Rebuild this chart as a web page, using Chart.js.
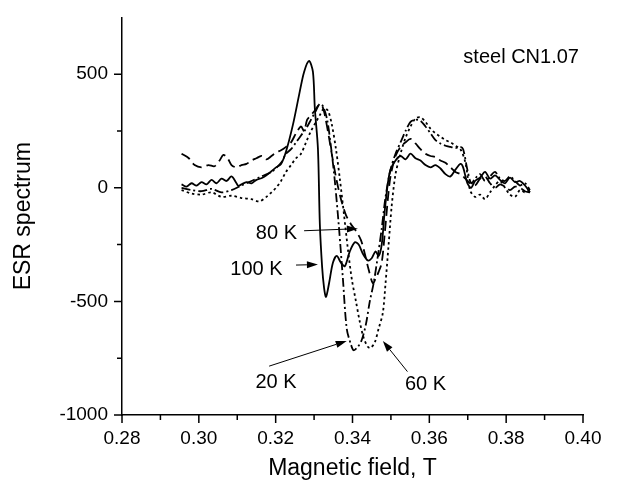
<!DOCTYPE html>
<html>
<head>
<meta charset="utf-8">
<script src="https://cdn.jsdelivr.net/npm/chart.js@4/dist/chart.umd.min.js"></script>
<style>
  html, body { margin: 0; padding: 0; background: #fff; }
</style>
</head>
<body>
<canvas id="chart" width="636" height="486"></canvas>
<script>
// ESR spectra of steel CN1.07 at four temperatures (field in T)
const field100K = [0.2955, 0.2968, 0.2981, 0.2994, 0.3007, 0.3020, 0.3033, 0.3046, 0.3059, 0.3072, 0.3085, 0.3098, 0.3103, 0.3111, 0.3124, 0.3137, 0.3150, 0.3163, 0.3176, 0.3189, 0.3201, 0.3214, 0.3227, 0.3245, 0.3261, 0.3274, 0.3287, 0.3297, 0.3302, 0.3310, 0.3315, 0.3321, 0.3326, 0.3331, 0.3339, 0.3349, 0.3359, 0.3370, 0.3380, 0.3393, 0.3406, 0.3416, 0.3427, 0.3440, 0.3450, 0.3460, 0.3468, 0.3476, 0.3484, 0.3492, 0.3499, 0.3512, 0.3525, 0.3538, 0.3551, 0.3564, 0.3577, 0.3590, 0.3603, 0.3616, 0.3629, 0.3642, 0.3655, 0.3668, 0.3681, 0.3688, 0.3699, 0.3709, 0.3719, 0.3732, 0.3745, 0.3758, 0.3771, 0.3784, 0.3797, 0.3810, 0.3823, 0.3836, 0.3849, 0.3862];
const esr100K = [15, 5, 20, 10, 25, 15, 35, 20, 40, 30, 50, 20, 8, 15, 25, 20, 35, 42, 55, 73, 90, 105, 160, 278, 409, 510, 558, 510, 348, 173, -160, -350, -440, -480, -420, -330, -300, -330, -345, -280, -240, -250, -290, -320, -310, -280, -300, -250, -100, 20, 80, 120, 140, 125, 150, 130, 120, 100, 90, 100, 85, 60, 50, 80, 105, 90, 20, 0, 30, 45, 70, 40, 55, 35, 20, 45, 25, 30, 10, -20];

const field80K = [0.2955, 0.2974, 0.2989, 0.3007, 0.3025, 0.3041, 0.3054, 0.3064, 0.3075, 0.3085, 0.3098, 0.3111, 0.3124, 0.3137, 0.3150, 0.3163, 0.3176, 0.3189, 0.3201, 0.3214, 0.3227, 0.3240, 0.3253, 0.3266, 0.3274, 0.3282, 0.3292, 0.3302, 0.3313, 0.3321, 0.3328, 0.3339, 0.3349, 0.3359, 0.3370, 0.3383, 0.3396, 0.3409, 0.3422, 0.3432, 0.3442, 0.3453, 0.3460, 0.3468, 0.3476, 0.3484, 0.3492, 0.3499, 0.3512, 0.3525, 0.3538, 0.3551, 0.3564, 0.3577, 0.3590, 0.3603, 0.3616, 0.3629, 0.3642, 0.3655, 0.3668, 0.3681, 0.3694, 0.3706, 0.3719, 0.3732, 0.3745, 0.3758, 0.3771, 0.3784, 0.3797, 0.3810, 0.3823, 0.3836, 0.3849, 0.3862];
const esr80K = [150, 130, 100, 90, 100, 95, 120, 145, 130, 100, 90, 100, 105, 120, 130, 140, 125, 140, 155, 165, 180, 200, 240, 270, 250, 300, 320, 340, 365, 360, 320, 220, 120, 30, -50, -120, -160, -190, -230, -290, -360, -420, -400, -370, -330, -200, -50, 50, 140, 180, 200, 215, 195, 170, 150, 140, 135, 120, 110, 90, 70, 60, 40, 20, 10, 40, 50, 20, 0, 15, 5, -10, 5, 0, -15, -20];

const field20K = [0.2955, 0.2981, 0.3007, 0.3033, 0.3059, 0.3085, 0.3111, 0.3137, 0.3163, 0.3189, 0.3214, 0.3227, 0.3240, 0.3253, 0.3266, 0.3279, 0.3292, 0.3305, 0.3315, 0.3323, 0.3334, 0.3344, 0.3354, 0.3365, 0.3375, 0.3385, 0.3396, 0.3403, 0.3414, 0.3424, 0.3435, 0.3445, 0.3455, 0.3466, 0.3476, 0.3486, 0.3499, 0.3512, 0.3525, 0.3538, 0.3551, 0.3564, 0.3577, 0.3590, 0.3603, 0.3616, 0.3629, 0.3642, 0.3655, 0.3668, 0.3681, 0.3688, 0.3699, 0.3709, 0.3719, 0.3732, 0.3745, 0.3758, 0.3771, 0.3784, 0.3797, 0.3810, 0.3823, 0.3836, 0.3849, 0.3862];
const esr20K = [0, -10, -15, -5, -20, -10, 10, 30, 50, 70, 110, 150, 170, 200, 230, 260, 300, 340, 370, 360, 300, 180, 30, -180, -400, -620, -690, -715, -700, -670, -600, -500, -420, -300, -180, -40, 80, 150, 200, 250, 290, 300, 295, 270, 240, 210, 195, 185, 180, 175, 180, 170, 80, 20, 40, 60, 30, 50, 70, 40, 30, 50, 30, 10, 20, -10];

const field60K = [0.2955, 0.2981, 0.3007, 0.3033, 0.3059, 0.3085, 0.3111, 0.3137, 0.3157, 0.3176, 0.3189, 0.3201, 0.3214, 0.3227, 0.3240, 0.3253, 0.3266, 0.3279, 0.3292, 0.3305, 0.3315, 0.3326, 0.3336, 0.3346, 0.3357, 0.3367, 0.3378, 0.3388, 0.3398, 0.3409, 0.3419, 0.3429, 0.3440, 0.3447, 0.3458, 0.3468, 0.3479, 0.3486, 0.3494, 0.3502, 0.3512, 0.3525, 0.3538, 0.3551, 0.3564, 0.3577, 0.3590, 0.3603, 0.3616, 0.3629, 0.3642, 0.3655, 0.3668, 0.3681, 0.3694, 0.3706, 0.3719, 0.3732, 0.3745, 0.3758, 0.3771, 0.3784, 0.3797, 0.3810, 0.3823, 0.3836, 0.3849, 0.3862];
const esr60K = [-10, -25, -30, -20, -40, -35, -45, -50, -60, -40, -20, 0, 30, 70, 100, 130, 150, 200, 250, 290, 320, 350, 340, 280, 170, 40, -120, -270, -400, -500, -590, -660, -700, -705, -680, -620, -550, -420, -250, -80, 60, 150, 220, 270, 305, 310, 290, 260, 240, 225, 210, 200, 185, 170, 110, -10, -40, -30, -50, -20, 10, 30, 0, -30, -40, -10, -20, -10];

// axis ticks
const xMajorTicks = [0.28, 0.30, 0.32, 0.34, 0.36, 0.38, 0.40];
const xMinorTicks = [0.29, 0.31, 0.33, 0.35, 0.37, 0.39];
const yMajorTicks = [-1000, -500, 0, 500];
const yMinorTicks = [-750, -250, 250];

// text notes and arrows (data coordinates)
const noteText = ['steel CN1.07', '80 K', '100 K', '20 K', '60 K'];
const noteField = [0.3839, 0.3202, 0.3150, 0.3201, 0.3590];
const noteEsr = [575, -200, -360, -857, -866];
const arrowFrom = [[0.3274, -189], [0.3253, -340], [0.3183, -785], [0.3543, -809]];
const arrowTo = [[0.3414, -180], [0.3310, -338], [0.3385, -674], [0.3479, -674]];

const FONT = "'Liberation Sans', Arial, sans-serif";

const toPoints = (xs, ys) => xs.map((x, i) => ({ x: x, y: ys[i] }));

const makeSet = (label, xs, ys, dash) => ({
  label: label,
  data: toPoints(xs, ys),
  borderColor: '#000',
  borderWidth: 1.8,
  borderDash: dash,
  pointRadius: 0,
  tension: 0.3,
  fill: false,
});

// tick marks: long for labelled ticks, short for the in-between ones
const tickMarks = {
  id: 'tickMarks',
  afterDraw(chart) {
    const { ctx, scales: { x, y } } = chart;
    ctx.save();
    ctx.strokeStyle = '#000';
    ctx.lineWidth = 1.5;
    ctx.beginPath();
    xMajorTicks.forEach(v => { const px = x.getPixelForValue(v); ctx.moveTo(px, x.top); ctx.lineTo(px, x.top + 8); });
    xMinorTicks.forEach(v => { const px = x.getPixelForValue(v); ctx.moveTo(px, x.top); ctx.lineTo(px, x.top + 5); });
    yMajorTicks.forEach(v => { const py = y.getPixelForValue(v); ctx.moveTo(y.right, py); ctx.lineTo(y.right - 8, py); });
    yMinorTicks.forEach(v => { const py = y.getPixelForValue(v); ctx.moveTo(y.right, py); ctx.lineTo(y.right - 5, py); });
    ctx.stroke();
    ctx.restore();
  }
};

const notes = {
  id: 'notes',
  afterDatasetsDraw(chart) {
    const { ctx, scales: { x, y } } = chart;
    ctx.save();
    ctx.fillStyle = '#000';
    ctx.strokeStyle = '#000';
    ctx.font = '20px ' + FONT;
    ctx.textAlign = 'center';
    ctx.textBaseline = 'middle';
    noteText.forEach((t, i) => {
      ctx.fillText(t, x.getPixelForValue(noteField[i]), y.getPixelForValue(noteEsr[i]));
    });
    ctx.lineWidth = 1;
    arrowFrom.forEach((a, i) => {
      const x0 = x.getPixelForValue(a[0]), y0 = y.getPixelForValue(a[1]);
      const x1 = x.getPixelForValue(arrowTo[i][0]), y1 = y.getPixelForValue(arrowTo[i][1]);
      const ang = Math.atan2(y1 - y0, x1 - x0);
      const hl = 11, hw = 3.5;
      ctx.beginPath();
      ctx.moveTo(x0, y0);
      ctx.lineTo(x1 - hl * Math.cos(ang), y1 - hl * Math.sin(ang));
      ctx.stroke();
      ctx.beginPath();
      ctx.moveTo(x1, y1);
      ctx.lineTo(x1 - hl * Math.cos(ang) + hw * Math.sin(ang), y1 - hl * Math.sin(ang) - hw * Math.cos(ang));
      ctx.lineTo(x1 - hl * Math.cos(ang) - hw * Math.sin(ang), y1 - hl * Math.sin(ang) + hw * Math.cos(ang));
      ctx.closePath();
      ctx.fill();
    });
    ctx.restore();
  }
};

new Chart(document.getElementById('chart'), {
  type: 'line',
  data: {
    datasets: [
      makeSet('100 K', field100K, esr100K, []),
      makeSet('80 K', field80K, esr80K, [10, 5]),
      makeSet('20 K', field20K, esr20K, [9, 3, 2, 3]),
      makeSet('60 K', field60K, esr60K, [2.5, 3]),
    ],
  },
  options: {
    responsive: false,
    animation: false,
    layout: { padding: { top: 15, right: 53, left: 0, bottom: 0 } },
    plugins: { legend: { display: false }, tooltip: { enabled: false } },
    scales: {
      x: {
        type: 'linear',
        min: 0.28,
        max: 0.40,
        afterBuildTicks: s => { s.ticks = xMajorTicks.map(v => ({ value: v })); },
        afterFit: s => { s.height = 71; },
        grid: { display: false, drawTicks: true, tickLength: 8 },
        border: { display: true, color: '#000', width: 1.5 },
        ticks: {
          autoSkip: false, maxRotation: 0, color: '#000', padding: 4,
          font: { family: FONT, size: 19 },
          callback: v => v.toFixed(2),
        },
        title: {
          display: true, text: 'Magnetic field, T', color: '#000',
          font: { family: FONT, size: 23 }, padding: { top: 4 },
        },
      },
      y: {
        type: 'linear',
        min: -1000,
        max: 750,
        afterBuildTicks: s => { s.ticks = yMajorTicks.map(v => ({ value: v })); },
        afterFit: s => { s.width = 122; },
        grid: { display: false, drawTicks: true, tickLength: 8 },
        border: { display: true, color: '#000', width: 1.5 },
        ticks: {
          color: '#000', padding: 6,
          font: { family: FONT, size: 19 },
          callback: v => String(v),
        },
        title: {
          display: true, text: 'ESR spectrum', color: '#000',
          font: { family: FONT, size: 23 }, padding: { top: 10, bottom: 4 },
        },
      },
    },
  },
  plugins: [tickMarks, notes],
});
</script>
</body>
</html>
